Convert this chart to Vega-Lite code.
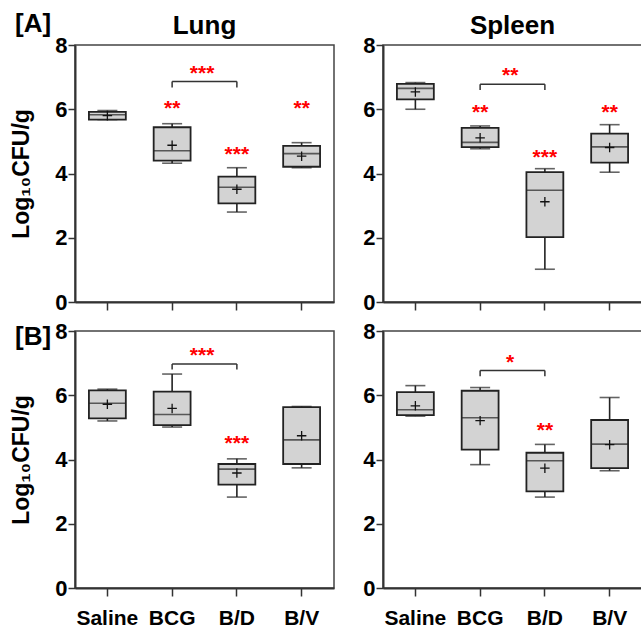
{
  "$schema": "https://vega.github.io/schema/vega-lite/v6.json",
  "padding": {"left": 10, "top": 11, "right": 0, "bottom": 0},
  "spacing": 5,
  "datasets": {
    "d": [
      {"panel": "A", "organ": "Lung", "kind": "box", "group": "Saline", "min": 5.68, "q1": 5.68, "med": 5.83, "q3": 5.92, "max": 5.96, "mean": 5.8},
      {"panel": "A", "organ": "Lung", "kind": "box", "group": "BCG", "min": 4.32, "q1": 4.4, "med": 4.71, "q3": 5.44, "max": 5.55, "mean": 4.88},
      {"panel": "A", "organ": "Lung", "kind": "box", "group": "B/D", "min": 2.8, "q1": 3.07, "med": 3.57, "q3": 3.9, "max": 4.18, "mean": 3.51},
      {"panel": "A", "organ": "Lung", "kind": "box", "group": "B/V", "min": 4.18, "q1": 4.21, "med": 4.62, "q3": 4.86, "max": 4.96, "mean": 4.54},
      {"panel": "A", "organ": "Lung", "kind": "br", "group": "BCG", "g2": "B/D", "y": 6.86},
      {"panel": "A", "organ": "Lung", "kind": "brv", "group": "BCG", "y": 6.86, "y2": 6.68},
      {"panel": "A", "organ": "Lung", "kind": "brv", "group": "B/D", "y": 6.86, "y2": 6.68},
      {"panel": "A", "organ": "Lung", "kind": "star", "group": "BCG", "y": 5.83, "label": "**"},
      {"panel": "A", "organ": "Lung", "kind": "star", "group": "B/D", "y": 4.4, "label": "***"},
      {"panel": "A", "organ": "Lung", "kind": "star", "group": "B/V", "y": 5.83, "label": "**"},
      {"panel": "A", "organ": "Lung", "kind": "bstar", "group": "BCG", "y": 6.9, "label": "***"},

      {"panel": "A", "organ": "Spleen", "kind": "box", "group": "Saline", "min": 6.0, "q1": 6.31, "med": 6.65, "q3": 6.79, "max": 6.83, "mean": 6.54},
      {"panel": "A", "organ": "Spleen", "kind": "box", "group": "BCG", "min": 4.77, "q1": 4.82, "med": 4.97, "q3": 5.42, "max": 5.48, "mean": 5.11},
      {"panel": "A", "organ": "Spleen", "kind": "box", "group": "B/D", "min": 1.02, "q1": 2.02, "med": 3.48, "q3": 4.04, "max": 4.15, "mean": 3.12},
      {"panel": "A", "organ": "Spleen", "kind": "box", "group": "B/V", "min": 4.04, "q1": 4.34, "med": 4.83, "q3": 5.24, "max": 5.52, "mean": 4.81},
      {"panel": "A", "organ": "Spleen", "kind": "br", "group": "BCG", "g2": "B/D", "y": 6.78},
      {"panel": "A", "organ": "Spleen", "kind": "brv", "group": "BCG", "y": 6.78, "y2": 6.6},
      {"panel": "A", "organ": "Spleen", "kind": "brv", "group": "B/D", "y": 6.78, "y2": 6.6},
      {"panel": "A", "organ": "Spleen", "kind": "star", "group": "BCG", "y": 5.69, "label": "**"},
      {"panel": "A", "organ": "Spleen", "kind": "star", "group": "B/D", "y": 4.31, "label": "***"},
      {"panel": "A", "organ": "Spleen", "kind": "star", "group": "B/V", "y": 5.71, "label": "**"},
      {"panel": "A", "organ": "Spleen", "kind": "bstar", "group": "BCG", "y": 6.86, "label": "**"},

      {"panel": "B", "organ": "Lung", "kind": "box", "group": "Saline", "min": 5.2, "q1": 5.28, "med": 5.75, "q3": 6.15, "max": 6.19, "mean": 5.72},
      {"panel": "B", "organ": "Lung", "kind": "box", "group": "BCG", "min": 5.01, "q1": 5.07, "med": 5.4, "q3": 6.11, "max": 6.66, "mean": 5.59},
      {"panel": "B", "organ": "Lung", "kind": "box", "group": "B/D", "min": 2.83, "q1": 3.22, "med": 3.7, "q3": 3.86, "max": 4.02, "mean": 3.58},
      {"panel": "B", "organ": "Lung", "kind": "box", "group": "B/V", "min": 3.74, "q1": 3.86, "med": 4.61, "q3": 5.63, "max": 5.65, "mean": 4.74},
      {"panel": "B", "organ": "Lung", "kind": "br", "group": "BCG", "g2": "B/D", "y": 6.97},
      {"panel": "B", "organ": "Lung", "kind": "brv", "group": "BCG", "y": 6.97, "y2": 6.8},
      {"panel": "B", "organ": "Lung", "kind": "brv", "group": "B/D", "y": 6.97, "y2": 6.8},
      {"panel": "B", "organ": "Lung", "kind": "star", "group": "B/D", "y": 4.3, "label": "***"},
      {"panel": "B", "organ": "Lung", "kind": "bstar", "group": "BCG", "y": 7.02, "label": "***"},

      {"panel": "B", "organ": "Spleen", "kind": "box", "group": "Saline", "min": 5.35, "q1": 5.38, "med": 5.55, "q3": 6.1, "max": 6.3, "mean": 5.67},
      {"panel": "B", "organ": "Spleen", "kind": "box", "group": "BCG", "min": 3.84, "q1": 4.31, "med": 5.3, "q3": 6.14, "max": 6.24, "mean": 5.21},
      {"panel": "B", "organ": "Spleen", "kind": "box", "group": "B/D", "min": 2.83, "q1": 3.01, "med": 3.96, "q3": 4.21, "max": 4.47, "mean": 3.73},
      {"panel": "B", "organ": "Spleen", "kind": "box", "group": "B/V", "min": 3.65, "q1": 3.73, "med": 4.48, "q3": 5.23, "max": 5.93, "mean": 4.46},
      {"panel": "B", "organ": "Spleen", "kind": "br", "group": "BCG", "g2": "B/D", "y": 6.77},
      {"panel": "B", "organ": "Spleen", "kind": "brv", "group": "BCG", "y": 6.77, "y2": 6.59},
      {"panel": "B", "organ": "Spleen", "kind": "brv", "group": "B/D", "y": 6.77, "y2": 6.59},
      {"panel": "B", "organ": "Spleen", "kind": "star", "group": "B/D", "y": 4.71, "label": "**"},
      {"panel": "B", "organ": "Spleen", "kind": "bstar", "group": "BCG", "y": 6.82, "label": "*"}
    ]
  },
  "vconcat": [
    {
      "title": {"text": "[A]", "orient": "top", "anchor": "start", "frame": "bounds", "offset": -25, "dx": 5, "fontSize": 26},
      "spacing": 27,
      "hconcat": [
        {
          "width": 259, "height": 257,
          "title": {"text": "Lung", "offset": -5},
          "data": {"name": "d"},
          "transform": [{"filter": "datum.panel === 'A' && datum.organ === 'Lung'"}],
          "encoding": {"x": {"field": "group", "type": "nominal", "sort": null, "scale": {"domain": ["Saline", "BCG", "B/D", "B/V"], "paddingInner": 0, "paddingOuter": 0}, "axis": {"labels": false, "title": null, "tickSize": 8}}},
          "layer": [
            {"transform": [{"filter": "datum.kind === 'box'"}], "mark": {"type": "rule", "color": "#222", "strokeWidth": 1.6}, "encoding": {"y": {"field": "min", "type": "quantitative", "scale": {"domain": [0, 8], "nice": false}, "axis": {"values": [0, 1, 2, 3, 4, 5, 6, 7, 8], "labelExpr": "datum.value % 2 === 0 ? datum.label : ''", "tickSize": {"condition": {"test": "datum.value % 2 === 1", "value": 5}, "value": 7}, "labelPadding": 1, "title": "Log₁₀CFU/g", "titlePadding": 21}}, "y2": {"field": "max"}}},
            {"transform": [{"filter": "datum.kind === 'box'"}], "mark": {"type": "tick", "color": "#222", "size": 20, "thickness": 1.6}, "encoding": {"y": {"field": "min", "type": "quantitative"}}},
            {"transform": [{"filter": "datum.kind === 'box'"}], "mark": {"type": "tick", "color": "#222", "size": 20, "thickness": 1.6}, "encoding": {"y": {"field": "max", "type": "quantitative"}}},
            {"transform": [{"filter": "datum.kind === 'box'"}], "mark": {"type": "bar", "fill": "#d3d3d3", "stroke": "#222", "strokeWidth": 1.8, "width": {"band": 0.57}}, "encoding": {"y": {"field": "q1", "type": "quantitative"}, "y2": {"field": "q3"}}},
            {"transform": [{"filter": "datum.kind === 'box'"}], "mark": {"type": "tick", "color": "#222", "size": 37, "thickness": 1.6}, "encoding": {"y": {"field": "med", "type": "quantitative"}}},
            {"transform": [{"filter": "datum.kind === 'box'"}], "mark": {"type": "point", "shape": "M-1,0L1,0M0,-1L0,1", "size": 90, "color": "#111", "strokeWidth": 1.3, "filled": false, "opacity": 1}, "encoding": {"y": {"field": "mean", "type": "quantitative"}}},
            {"transform": [{"filter": "datum.kind === 'br'"}], "mark": {"type": "rule", "color": "#333", "strokeWidth": 1.5}, "encoding": {"x2": {"field": "g2"}, "y": {"field": "y", "type": "quantitative"}}},
            {"transform": [{"filter": "datum.kind === 'brv'"}], "mark": {"type": "rule", "color": "#333", "strokeWidth": 1.5}, "encoding": {"y": {"field": "y", "type": "quantitative"}, "y2": {"field": "y2"}}},
            {"transform": [{"filter": "datum.kind === 'star'"}], "mark": {"type": "text", "color": "#f00", "fontSize": 21, "fontWeight": "bold", "baseline": "alphabetic"}, "encoding": {"y": {"field": "y", "type": "quantitative"}, "text": {"field": "label"}}},
            {"transform": [{"filter": "datum.kind === 'bstar'"}], "mark": {"type": "text", "color": "#f00", "fontSize": 21, "fontWeight": "bold", "baseline": "alphabetic", "dx": 30}, "encoding": {"y": {"field": "y", "type": "quantitative"}, "text": {"field": "label"}}}
          ]
        },
        {
          "width": 259, "height": 257,
          "title": {"text": "Spleen", "offset": -5},
          "data": {"name": "d"},
          "transform": [{"filter": "datum.panel === 'A' && datum.organ === 'Spleen'"}],
          "encoding": {"x": {"field": "group", "type": "nominal", "sort": null, "scale": {"domain": ["Saline", "BCG", "B/D", "B/V"], "paddingInner": 0, "paddingOuter": 0}, "axis": {"labels": false, "title": null, "tickSize": 8}}},
          "layer": [
            {"transform": [{"filter": "datum.kind === 'box'"}], "mark": {"type": "rule", "color": "#222", "strokeWidth": 1.6}, "encoding": {"y": {"field": "min", "type": "quantitative", "scale": {"domain": [0, 8], "nice": false}, "axis": {"values": [0, 1, 2, 3, 4, 5, 6, 7, 8], "labelExpr": "datum.value % 2 === 0 ? datum.label : ''", "tickSize": {"condition": {"test": "datum.value % 2 === 1", "value": 5}, "value": 7}, "labelPadding": 1, "title": null}}, "y2": {"field": "max"}}},
            {"transform": [{"filter": "datum.kind === 'box'"}], "mark": {"type": "tick", "color": "#222", "size": 20, "thickness": 1.6}, "encoding": {"y": {"field": "min", "type": "quantitative"}}},
            {"transform": [{"filter": "datum.kind === 'box'"}], "mark": {"type": "tick", "color": "#222", "size": 20, "thickness": 1.6}, "encoding": {"y": {"field": "max", "type": "quantitative"}}},
            {"transform": [{"filter": "datum.kind === 'box'"}], "mark": {"type": "bar", "fill": "#d3d3d3", "stroke": "#222", "strokeWidth": 1.8, "width": {"band": 0.57}}, "encoding": {"y": {"field": "q1", "type": "quantitative"}, "y2": {"field": "q3"}}},
            {"transform": [{"filter": "datum.kind === 'box'"}], "mark": {"type": "tick", "color": "#222", "size": 37, "thickness": 1.6}, "encoding": {"y": {"field": "med", "type": "quantitative"}}},
            {"transform": [{"filter": "datum.kind === 'box'"}], "mark": {"type": "point", "shape": "M-1,0L1,0M0,-1L0,1", "size": 90, "color": "#111", "strokeWidth": 1.3, "filled": false, "opacity": 1}, "encoding": {"y": {"field": "mean", "type": "quantitative"}}},
            {"transform": [{"filter": "datum.kind === 'br'"}], "mark": {"type": "rule", "color": "#333", "strokeWidth": 1.5}, "encoding": {"x2": {"field": "g2"}, "y": {"field": "y", "type": "quantitative"}}},
            {"transform": [{"filter": "datum.kind === 'brv'"}], "mark": {"type": "rule", "color": "#333", "strokeWidth": 1.5}, "encoding": {"y": {"field": "y", "type": "quantitative"}, "y2": {"field": "y2"}}},
            {"transform": [{"filter": "datum.kind === 'star'"}], "mark": {"type": "text", "color": "#f00", "fontSize": 21, "fontWeight": "bold", "baseline": "alphabetic"}, "encoding": {"y": {"field": "y", "type": "quantitative"}, "text": {"field": "label"}}},
            {"transform": [{"filter": "datum.kind === 'bstar'"}], "mark": {"type": "text", "color": "#f00", "fontSize": 21, "fontWeight": "bold", "baseline": "alphabetic", "dx": 30}, "encoding": {"y": {"field": "y", "type": "quantitative"}, "text": {"field": "label"}}}
          ]
        }
      ]
    },
    {
      "title": {"text": "[B]", "orient": "top", "anchor": "start", "frame": "bounds", "offset": -31, "dx": 5, "fontSize": 26},
      "spacing": 27,
      "hconcat": [
        {
          "width": 259, "height": 257,
          "data": {"name": "d"},
          "transform": [{"filter": "datum.panel === 'B' && datum.organ === 'Lung'"}],
          "encoding": {"x": {"field": "group", "type": "nominal", "sort": null, "scale": {"domain": ["Saline", "BCG", "B/D", "B/V"], "paddingInner": 0, "paddingOuter": 0}, "axis": {"labels": true, "title": null, "tickSize": 8, "labelPadding": 11}}},
          "layer": [
            {"transform": [{"filter": "datum.kind === 'box'"}], "mark": {"type": "rule", "color": "#222", "strokeWidth": 1.6}, "encoding": {"y": {"field": "min", "type": "quantitative", "scale": {"domain": [0, 8], "nice": false}, "axis": {"values": [0, 1, 2, 3, 4, 5, 6, 7, 8], "labelExpr": "datum.value % 2 === 0 ? datum.label : ''", "tickSize": {"condition": {"test": "datum.value % 2 === 1", "value": 5}, "value": 7}, "labelPadding": 1, "title": "Log₁₀CFU/g", "titlePadding": 21}}, "y2": {"field": "max"}}},
            {"transform": [{"filter": "datum.kind === 'box'"}], "mark": {"type": "tick", "color": "#222", "size": 20, "thickness": 1.6}, "encoding": {"y": {"field": "min", "type": "quantitative"}}},
            {"transform": [{"filter": "datum.kind === 'box'"}], "mark": {"type": "tick", "color": "#222", "size": 20, "thickness": 1.6}, "encoding": {"y": {"field": "max", "type": "quantitative"}}},
            {"transform": [{"filter": "datum.kind === 'box'"}], "mark": {"type": "bar", "fill": "#d3d3d3", "stroke": "#222", "strokeWidth": 1.8, "width": {"band": 0.57}}, "encoding": {"y": {"field": "q1", "type": "quantitative"}, "y2": {"field": "q3"}}},
            {"transform": [{"filter": "datum.kind === 'box'"}], "mark": {"type": "tick", "color": "#222", "size": 37, "thickness": 1.6}, "encoding": {"y": {"field": "med", "type": "quantitative"}}},
            {"transform": [{"filter": "datum.kind === 'box'"}], "mark": {"type": "point", "shape": "M-1,0L1,0M0,-1L0,1", "size": 90, "color": "#111", "strokeWidth": 1.3, "filled": false, "opacity": 1}, "encoding": {"y": {"field": "mean", "type": "quantitative"}}},
            {"transform": [{"filter": "datum.kind === 'br'"}], "mark": {"type": "rule", "color": "#333", "strokeWidth": 1.5}, "encoding": {"x2": {"field": "g2"}, "y": {"field": "y", "type": "quantitative"}}},
            {"transform": [{"filter": "datum.kind === 'brv'"}], "mark": {"type": "rule", "color": "#333", "strokeWidth": 1.5}, "encoding": {"y": {"field": "y", "type": "quantitative"}, "y2": {"field": "y2"}}},
            {"transform": [{"filter": "datum.kind === 'star'"}], "mark": {"type": "text", "color": "#f00", "fontSize": 21, "fontWeight": "bold", "baseline": "alphabetic"}, "encoding": {"y": {"field": "y", "type": "quantitative"}, "text": {"field": "label"}}},
            {"transform": [{"filter": "datum.kind === 'bstar'"}], "mark": {"type": "text", "color": "#f00", "fontSize": 21, "fontWeight": "bold", "baseline": "alphabetic", "dx": 30}, "encoding": {"y": {"field": "y", "type": "quantitative"}, "text": {"field": "label"}}}
          ]
        },
        {
          "width": 259, "height": 257,
          "data": {"name": "d"},
          "transform": [{"filter": "datum.panel === 'B' && datum.organ === 'Spleen'"}],
          "encoding": {"x": {"field": "group", "type": "nominal", "sort": null, "scale": {"domain": ["Saline", "BCG", "B/D", "B/V"], "paddingInner": 0, "paddingOuter": 0}, "axis": {"labels": true, "title": null, "tickSize": 8, "labelPadding": 11}}},
          "layer": [
            {"transform": [{"filter": "datum.kind === 'box'"}], "mark": {"type": "rule", "color": "#222", "strokeWidth": 1.6}, "encoding": {"y": {"field": "min", "type": "quantitative", "scale": {"domain": [0, 8], "nice": false}, "axis": {"values": [0, 1, 2, 3, 4, 5, 6, 7, 8], "labelExpr": "datum.value % 2 === 0 ? datum.label : ''", "tickSize": {"condition": {"test": "datum.value % 2 === 1", "value": 5}, "value": 7}, "labelPadding": 1, "title": null}}, "y2": {"field": "max"}}},
            {"transform": [{"filter": "datum.kind === 'box'"}], "mark": {"type": "tick", "color": "#222", "size": 20, "thickness": 1.6}, "encoding": {"y": {"field": "min", "type": "quantitative"}}},
            {"transform": [{"filter": "datum.kind === 'box'"}], "mark": {"type": "tick", "color": "#222", "size": 20, "thickness": 1.6}, "encoding": {"y": {"field": "max", "type": "quantitative"}}},
            {"transform": [{"filter": "datum.kind === 'box'"}], "mark": {"type": "bar", "fill": "#d3d3d3", "stroke": "#222", "strokeWidth": 1.8, "width": {"band": 0.57}}, "encoding": {"y": {"field": "q1", "type": "quantitative"}, "y2": {"field": "q3"}}},
            {"transform": [{"filter": "datum.kind === 'box'"}], "mark": {"type": "tick", "color": "#222", "size": 37, "thickness": 1.6}, "encoding": {"y": {"field": "med", "type": "quantitative"}}},
            {"transform": [{"filter": "datum.kind === 'box'"}], "mark": {"type": "point", "shape": "M-1,0L1,0M0,-1L0,1", "size": 90, "color": "#111", "strokeWidth": 1.3, "filled": false, "opacity": 1}, "encoding": {"y": {"field": "mean", "type": "quantitative"}}},
            {"transform": [{"filter": "datum.kind === 'br'"}], "mark": {"type": "rule", "color": "#333", "strokeWidth": 1.5}, "encoding": {"x2": {"field": "g2"}, "y": {"field": "y", "type": "quantitative"}}},
            {"transform": [{"filter": "datum.kind === 'brv'"}], "mark": {"type": "rule", "color": "#333", "strokeWidth": 1.5}, "encoding": {"y": {"field": "y", "type": "quantitative"}, "y2": {"field": "y2"}}},
            {"transform": [{"filter": "datum.kind === 'star'"}], "mark": {"type": "text", "color": "#f00", "fontSize": 21, "fontWeight": "bold", "baseline": "alphabetic"}, "encoding": {"y": {"field": "y", "type": "quantitative"}, "text": {"field": "label"}}},
            {"transform": [{"filter": "datum.kind === 'bstar'"}], "mark": {"type": "text", "color": "#f00", "fontSize": 21, "fontWeight": "bold", "baseline": "alphabetic", "dx": 30}, "encoding": {"y": {"field": "y", "type": "quantitative"}, "text": {"field": "label"}}}
          ]
        }
      ]
    }
  ],
  "config": {
    "font": "Liberation Sans",
    "view": {"stroke": "#444", "strokeWidth": 1.5},
    "axis": {"domainColor": "#333", "domainWidth": 2, "tickColor": "#333", "tickWidth": 1.5, "labelFont": "Liberation Sans", "labelFontWeight": "bold", "labelColor": "#000", "titleFont": "Liberation Sans", "titleFontWeight": "bold", "titleColor": "#000", "grid": false},
    "axisY": {"labelFontSize": 22, "titleFontSize": 23},
    "axisX": {"labelFontSize": 21, "labelAngle": 0},
    "title": {"font": "Liberation Sans", "fontSize": 26, "fontWeight": "bold", "color": "#000", "offset": 6}
  }
}
